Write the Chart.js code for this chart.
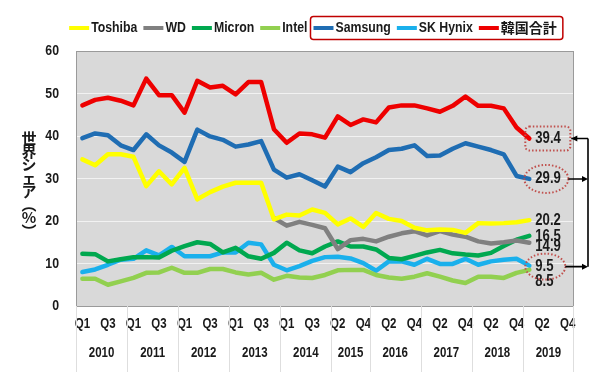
<!DOCTYPE html>
<html>
<head>
<meta charset="utf-8">
<script src="https://cdn.jsdelivr.net/npm/chart.js@4"></script>
<style>
  html, body { margin: 0; padding: 0; background: #fff; }
  #wrap { width: 600px; height: 375px; }
</style>
</head>
<body>
<div id="wrap"><canvas id="chart"></canvas></div>
<script>
// x axis: quarters (2015 only has Q2-Q4 in the source)
const quarters = [
  'Q1','Q2','Q3','Q4', 'Q1','Q2','Q3','Q4', 'Q1','Q2','Q3','Q4', 'Q1','Q2','Q3','Q4', 'Q1','Q2','Q3','Q4',
  'Q2','Q3','Q4',
  'Q1','Q2','Q3','Q4', 'Q1','Q2','Q3','Q4', 'Q1','Q2','Q3','Q4', 'Q1','Q2','Q3','Q4'
];
const years = [
  '2010','2010','2010','2010', '2011','2011','2011','2011', '2012','2012','2012','2012',
  '2013','2013','2013','2013', '2014','2014','2014','2014',
  '2015','2015','2015',
  '2016','2016','2016','2016', '2017','2017','2017','2017', '2018','2018','2018','2018',
  '2019','2019','2019','2019'
];

// shares in %
const toshiba = [34.5,33.1,35.7,35.7,35.1,28.2,31.7,28.6,32.5,25.1,26.8,28.1,29.0,29.0,29.0,20.4,21.5,21.3,22.7,21.9,
                 19.2,20.6,18.6,21.9,20.5,20.0,18.4,17.8,18.0,17.9,17.2,19.5,19.4,19.5,19.7,20.2];
const wd      = [null,null,null,null,null,null,null,null,null,null,null,null,null,null,null,20.7,18.9,19.8,19.1,18.3,
                 13.4,15.5,15.8,15.2,16.3,17.1,17.6,16.6,17.6,16.8,16.3,15.2,14.7,15.0,15.4,14.9];
const micron  = [12.3,12.2,10.5,11.0,11.5,11.5,11.4,13.0,14.1,15.0,14.6,12.6,13.7,11.7,11.1,12.5,14.9,13.1,12.4,14.0,
                 15.2,14.0,14.0,13.3,11.3,11.0,11.8,12.6,13.2,12.4,12.1,11.9,12.5,14.1,15.6,16.5];
const intel   = [6.4,6.4,5.0,5.8,6.6,7.8,7.9,9.0,7.8,7.8,8.7,8.7,7.9,7.4,7.8,6.2,7.1,6.7,6.6,7.3,
                 8.4,8.5,8.5,7.3,6.7,6.4,6.9,7.7,6.9,6.0,5.4,6.9,6.9,6.6,7.8,8.5];
const samsung = [39.5,40.6,40.2,37.8,36.7,40.4,37.8,36.1,33.9,41.5,39.9,39.1,37.5,38.0,38.8,32.1,30.2,31.0,29.6,28.1,
                 32.8,31.5,33.6,35.0,36.7,37.0,37.8,35.3,35.4,37.0,38.3,37.5,36.7,35.7,30.6,29.9];
const hynix   = [8.0,8.6,9.7,10.9,11.1,13.1,11.9,13.9,11.7,11.7,11.7,12.6,12.6,14.9,14.5,9.7,8.4,9.4,10.6,11.5,
                 11.6,11.2,10.1,8.3,10.5,10.5,9.7,11.1,9.9,9.9,11.1,9.7,10.5,10.9,11.1,9.5];
const korea   = [47.2,48.5,49.0,48.3,47.2,53.5,49.6,49.6,45.5,53.0,51.4,51.8,49.8,52.7,52.7,41.6,38.4,40.6,40.4,39.6,
                 44.6,42.6,43.9,43.2,46.7,47.2,47.2,46.5,45.7,47.1,49.3,47.1,47.1,46.5,42.0,39.4];

const yTicks = [0, 10, 20, 30, 40, 50, 60];
const yTitle = '世界シェア︵%︶';

const FONT = "'Liberation Sans', Arial, sans-serif";
const CJK = "'Noto Sans CJK JP', 'Noto Sans CJK SC', sans-serif";
const INK = '#1a1a1a';
const SQUEEZE = 0.82; // the source uses a narrow bold face

Chart.defaults.font.family = FONT;
Chart.defaults.color = INK;

// draw text squeezed horizontally (no narrow font installed)
function narrow(ctx, text, x, y) {
  ctx.save();
  ctx.translate(x, y);
  if (!/[^\x00-\x7f]/.test(text)) ctx.scale(SQUEEZE, 1);
  ctx.fillText(text, 0, 0);
  ctx.restore();
}
function narrowWidth(ctx, text) {
  const w = ctx.measureText(text).width;
  return /[^\x00-\x7f]/.test(text) ? w : w * SQUEEZE;
}

function line(label, data, color) {
  return {
    label, data,
    borderColor: color, backgroundColor: color,
    borderWidth: 4.5, pointRadius: 0, pointHoverRadius: 0,
    tension: 0, borderJoinStyle: 'round', borderCapStyle: 'round',
    spanGaps: false
  };
}

// gray plot area + frame
const plotBg = {
  id: 'plotBg',
  beforeDraw(chart) {
    const {ctx, chartArea: a} = chart;
    ctx.save();
    ctx.fillStyle = '#d9d9d9';
    ctx.fillRect(a.left, a.top, a.right - a.left, a.bottom - a.top);
    ctx.restore();
  },
  beforeDatasetsDraw(chart) {
    const {ctx, chartArea: a} = chart;
    ctx.save();
    ctx.strokeStyle = '#9a9a9a';
    ctx.lineWidth = 1;
    ctx.strokeRect(a.left + 0.5, a.top + 0.5, a.right - a.left - 1, a.bottom - a.top);
    ctx.restore();
  }
};

// legend row with the red frame round the Korean makers
const legendRow = {
  id: 'legendRow',
  afterDraw(chart) {
    const ctx = chart.ctx;
    const sets = chart.data.datasets;
    const cy = 28, lineLen = 20, gap = 2, spacing = 6;
    ctx.save();
    ctx.textAlign = 'left';
    ctx.textBaseline = 'middle';
    const fontFor = (t) => /[^\x00-\x7f]/.test(t) ? 'bold 14px ' + CJK : 'bold 15px ' + FONT;
    const widths = sets.map(ds => { ctx.font = fontFor(ds.label); return lineLen + gap + narrowWidth(ctx, ds.label); });
    const total = widths.reduce((s, w) => s + w, 0) + spacing * (sets.length - 1);
    let x = 313 - total / 2;
    const starts = [];
    sets.forEach((ds, i) => {
      starts.push(x);
      ctx.fillStyle = ds.borderColor;
      ctx.fillRect(x, cy - 2, lineLen, 4);
      ctx.fillStyle = INK;
      ctx.font = fontFor(ds.label);
      narrow(ctx, ds.label, x + lineLen + gap, cy);
      x += widths[i] + spacing;
    });
    const fx0 = starts[4] - 3, fx1 = starts[6] + widths[6] + 6;
    ctx.strokeStyle = '#c00000';
    ctx.lineWidth = 1.5;
    ctx.beginPath();
    ctx.roundRect(fx0, cy - 11.5, fx1 - fx0, 23, 3);
    ctx.stroke();
    ctx.restore();
  }
};

// tick labels, year row and dividers
const axisText = {
  id: 'axisText',
  afterDraw(chart) {
    const {ctx, chartArea: a, scales: {x, y}} = chart;
    ctx.save();
    ctx.fillStyle = INK;
    ctx.textBaseline = 'middle';
    ctx.font = 'bold 15px ' + FONT;
    ctx.textAlign = 'right';
    y.ticks.forEach((t, i) => narrow(ctx, String(t.value), a.left - 17, y.getPixelForTick(i)));

    ctx.textAlign = 'center';
    ctx.font = 'bold 14px ' + FONT;
    quarters.forEach((q, i) => { if (i % 2 === 0) narrow(ctx, q, x.getPixelForValue(i), 324); });

    const half = (x.getPixelForValue(1) - x.getPixelForValue(0)) / 2;
    ctx.strokeStyle = '#dedede';
    ctx.lineWidth = 1;
    let start = 0;
    for (let i = 1; i <= years.length; i++) {
      if (i === years.length || years[i] !== years[start]) {
        const x0 = x.getPixelForValue(start) - half;
        const x1 = x.getPixelForValue(i - 1) + half;
        ctx.beginPath();
        ctx.moveTo(Math.round(x0) + 0.5, a.bottom);
        ctx.lineTo(Math.round(x0) + 0.5, 372);
        if (i === years.length) {
          ctx.moveTo(Math.round(x1) - 0.5, a.bottom);
          ctx.lineTo(Math.round(x1) - 0.5, 372);
        }
        ctx.stroke();
        narrow(ctx, years[start], (x0 + x1) / 2, 353);
        start = i;
      }
    }

    // vertical japanese axis title
    const chars = Array.from(yTitle);
    const step = 13.3;
    const mid = (a.top + a.bottom) / 2 + 6;
    ctx.font = 'bold 15px ' + CJK;
    chars.forEach((c, i) => ctx.fillText(c, 29, mid + (i - (chars.length - 1) / 2) * step));
    ctx.restore();
  }
};

// end-of-line values, dotted marks and the bracket on the right
const endLabels = {
  id: 'endLabels',
  afterDatasetsDraw(chart) {
    const {ctx, scales: {y}} = chart;
    const last = samsung.length - 1;
    const px = chart.getDatasetMeta(0).data[last].x + 6;
    // label nudges (px) so overlapping values stay readable
    const items = [
      {v: korea[last], dy: 0},
      {v: samsung[last], dy: 0},
      {v: toshiba[last], dy: 0},
      {v: micron[last], dy: 1},
      {v: wd[last], dy: 4},
      {v: hynix[last], dy: 1},
      {v: intel[last], dy: 12}
    ];
    ctx.save();
    ctx.fillStyle = INK;
    ctx.font = 'bold 16px ' + FONT;
    ctx.textAlign = 'left';
    ctx.textBaseline = 'middle';
    const pos = items.map(it => {
      const ly = y.getPixelForValue(it.v) + it.dy;
      narrow(ctx, it.v.toFixed(1), px, ly);
      return ly;
    });

    // dotted marks
    ctx.strokeStyle = '#c0504d';
    ctx.lineWidth = 2;
    ctx.setLineDash([1.5, 2]);
    ctx.beginPath();
    ctx.roundRect(px - 10, pos[0] - 12, 45, 24, 4);
    ctx.stroke();
    ctx.beginPath();
    ctx.ellipse(px + 11, pos[1], 22, 14, 0, 0, Math.PI * 2);
    ctx.stroke();
    ctx.beginPath();
    ctx.ellipse(px + 10, pos[5], 20, 13, 0, 0, Math.PI * 2);
    ctx.stroke();
    ctx.setLineDash([]);

    // bracket
    const bx = 588;
    ctx.strokeStyle = '#000';
    ctx.fillStyle = '#000';
    ctx.lineWidth = 1.6;
    ctx.beginPath();
    ctx.moveTo(bx, pos[0]); ctx.lineTo(bx, pos[5]);
    ctx.moveTo(px + 36, pos[0]); ctx.lineTo(bx, pos[0]);
    ctx.moveTo(px + 33, pos[1]); ctx.lineTo(bx - 4, pos[1]);
    ctx.moveTo(px + 30, pos[5]); ctx.lineTo(bx - 4, pos[5]);
    ctx.stroke();
    const arrow = (ax, ay, dir) => {
      ctx.beginPath();
      ctx.moveTo(ax, ay);
      ctx.lineTo(ax - dir * 6, ay - 3);
      ctx.lineTo(ax - dir * 6, ay + 3);
      ctx.closePath();
      ctx.fill();
    };
    arrow(px + 36, pos[0], -1);
    arrow(bx, pos[1], 1);
    arrow(bx, pos[5], 1);
    ctx.restore();
  }
};

new Chart(document.getElementById('chart'), {
  type: 'line',
  data: {
    labels: quarters,
    datasets: [
      line('Toshiba', toshiba, '#ffff00'),
      line('WD', wd, '#808080'),
      line('Micron', micron, '#00a84f'),
      line('Intel', intel, '#92d050'),
      line('Samsung', samsung, '#1f6db3'),
      line('SK Hynix', hynix, '#1ab0ec'),
      line('韓国合計', korea, '#ee0000')
    ]
  },
  options: {
    responsive: true,
    maintainAspectRatio: false,
    animation: false,
    layout: { padding: { top: 51, right: 26, left: 0, bottom: 0 } },
    scales: {
      x: {
        offset: true,
        grid: { display: false, drawTicks: false },
        border: { display: false },
        afterFit: (s) => { s.height = 69; },
        ticks: { display: false, autoSkip: false }
      },
      y: {
        min: 0, max: 60,
        afterFit: (s) => { s.width = 76; },
        afterBuildTicks: (s) => { s.ticks = yTicks.map(v => ({ value: v })); },
        grid: { color: '#f2f2f2', lineWidth: 1, drawTicks: false },
        border: { display: false },
        ticks: { display: false }
      }
    },
    plugins: {
      legend: { display: false },
      tooltip: { enabled: false }
    }
  },
  plugins: [plotBg, legendRow, axisText, endLabels]
});
</script>
</body>
</html>
